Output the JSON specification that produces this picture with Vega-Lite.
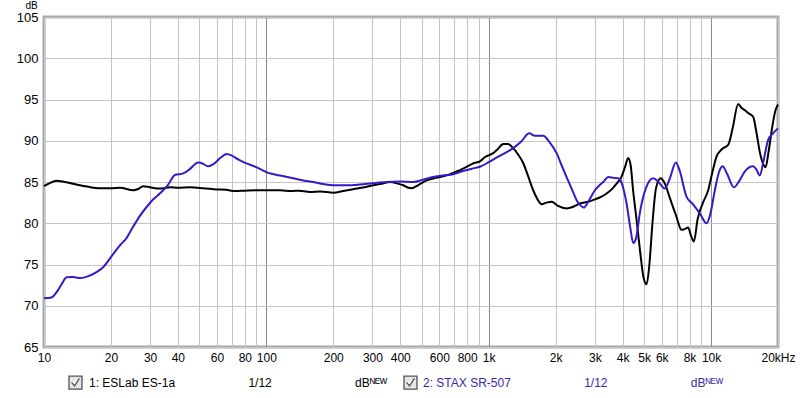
{
  "$schema": "https://vega.github.io/schema/vega-lite/v6.json",
  "width": 734,
  "height": 330,
  "autosize": {"type": "none"},
  "padding": {"left": 44, "top": 17, "right": 22, "bottom": 51},
  "background": "white",
  "config": {
    "view": {"stroke": "#a8a8a8", "strokeWidth": 3},
    "font": "Liberation Sans"
  },
  "datasets": {
    "es": [
      [10,84.5],[10.5,84.8],[11.4,85.15],[12.4,85.0],[13.5,84.8],[14.5,84.6],[16,84.4],[17.5,84.25],[20,84.25],[22,84.3],[25.2,84.0],[26.5,84.15],[27.9,84.5],[30,84.35],[33.2,84.2],[37,84.35],[40,84.3],[45.3,84.35],[52,84.25],[59.8,84.1],[66,84.05],[72.2,83.9],[80,83.95],[90,84.0],[104,84.0],[115,84.0],[130,83.9],[140,83.95],[157,83.8],[175,83.85],[200,83.7],[225,83.95],[255,84.2],[280,84.4],[303,84.6],[330,84.8],[360,85.0],[390,84.8],[413,84.6],[435,84.3],[450,84.25],[480,84.6],[526,85.2],[580,85.5],[647,85.8],[720,86.3],[796,86.85],[860,87.3],[913,87.5],[960,88.0],[1012,88.3],[1048,88.5],[1100,89.0],[1162,89.6],[1220,89.6],[1289,89.1],[1350,88.4],[1429,87.3],[1500,85.8],[1585,84.0],[1650,83.0],[1729,82.3],[1820,82.5],[1918,82.6],[2050,82.1],[2240,81.8],[2400,82.0],[2571,82.4],[2800,82.6],[3004,82.9],[3200,83.2],[3389,83.6],[3600,84.2],[3758,84.8],[3950,85.6],[4100,86.8],[4238,87.9],[4350,87.0],[4460,84.0],[4624,80.4],[4800,76.5],[4980,73.3],[5129,72.6],[5280,75.0],[5450,80.0],[5650,84.2],[5929,85.45],[6198,84.8],[6500,83.2],[6946,81.0],[7366,79.2],[7620,79.3],[7889,79.5],[8100,78.6],[8374,77.8],[8700,80.5],[9200,82.5],[9706,84.0],[10100,86.0],[10590,88.1],[11200,89.0],[11940,89.5],[12500,91.5],[13240,94.45],[13700,94.0],[14190,93.7],[14800,93.3],[15460,92.9],[16000,91.0],[16600,88.5],[17150,87.2],[17590,86.8],[18100,88.5],[18800,91.5],[19400,93.5],[20000,94.4]
    ],
    "st": [
      [10,70.9],[10.8,71.0],[11.5,71.8],[12,72.6],[12.65,73.45],[13.5,73.5],[14.5,73.35],[15.5,73.5],[17.3,74.1],[18.5,74.7],[20,75.9],[22,77.35],[23.5,78.2],[25.2,79.6],[27,80.9],[29,82.0],[31,82.9],[33.2,83.6],[36,84.6],[38.8,85.85],[42.3,86.05],[45,86.5],[49.4,87.35],[52,87.2],[54.8,86.9],[58,87.2],[62,87.9],[66.3,88.4],[70,88.2],[75,87.7],[81.5,87.25],[90,86.8],[102,86.1],[115,85.8],[132,85.45],[145,85.2],[163,85.0],[180,84.75],[200,84.6],[230,84.6],[264,84.7],[300,84.85],[347,85.0],[400,85.05],[458,85.0],[510,85.3],[563,85.6],[620,85.8],[692,85.95],[760,86.3],[852,86.65],[913,86.85],[1000,87.4],[1110,88.1],[1200,88.6],[1289,89.1],[1400,89.9],[1521,90.9],[1613,90.6],[1700,90.6],[1758,90.6],[1880,89.8],[2020,88.5],[2130,87.0],[2240,85.6],[2360,84.2],[2485,82.8],[2580,82.2],[2679,81.9],[2800,82.6],[3004,84.0],[3150,84.6],[3300,85.1],[3446,85.6],[3650,85.5],[3823,85.45],[3950,85.0],[4050,84.0],[4169,82.4],[4330,79.5],[4466,77.6],[4600,78.2],[4800,81.5],[5100,84.3],[5493,85.45],[5800,85.0],[6198,84.2],[6500,85.3],[6946,87.35],[7200,86.5],[7761,83.2],[8300,82.3],[8900,81.2],[9545,80.0],[9900,81.0],[10400,84.0],[10800,86.0],[11270,86.9],[11800,86.0],[12670,84.35],[13300,85.0],[14200,86.3],[15460,86.9],[16000,86.5],[16570,85.8],[17200,87.5],[18060,90.1],[19000,90.9],[20000,91.5]
    ]
  },
  "layer": [
    {
      "data": {"name": "es"},
      "transform": [
        {"calculate": "datum[0]", "as": "freq"},
        {"calculate": "datum[1]", "as": "db"},
        {"calculate": "'1: ESLab ES-1a'", "as": "series"},
        {"calculate": "'box1'", "as": "box"}
      ],
      "mark": {"type": "line", "strokeWidth": 2, "interpolate": "monotone"},
      "encoding": {
        "x": {"field": "freq", "type": "quantitative"},
        "y": {"field": "db", "type": "quantitative"},
        "stroke": {"field": "series", "type": "nominal"},
        "opacity": {"field": "box", "type": "nominal"}
      }
    },
    {
      "data": {"name": "st"},
      "transform": [
        {"calculate": "datum[0]", "as": "freq"},
        {"calculate": "datum[1]", "as": "db"},
        {"calculate": "'2: STAX SR-507'", "as": "series"},
        {"calculate": "'box2'", "as": "box"}
      ],
      "mark": {"type": "line", "strokeWidth": 2, "interpolate": "monotone"},
      "encoding": {
        "x": {"field": "freq", "type": "quantitative"},
        "y": {"field": "db", "type": "quantitative"},
        "stroke": {"field": "series", "type": "nominal"},
        "opacity": {"field": "box", "type": "nominal"}
      }
    }
  ],
  "encoding": {
    "x": {
      "field": "freq", "type": "quantitative",
      "scale": {"type": "log", "domain": [10, 20000], "nice": false},
      "axis": {
        "title": null,
        "values": [10,20,30,40,50,60,70,80,90,100,200,300,400,500,600,700,800,900,1000,2000,3000,4000,5000,6000,7000,8000,9000,10000,20000],
        "labelExpr": "indexof([50,70,90,500,700,900,7000,9000], datum.value) >= 0 ? '' : (datum.value >= 20000 ? '20kHz' : (datum.value >= 1000 ? (datum.value/1000) + 'k' : '' + datum.value))",
        "labelOverlap": false,
        "labelFlush": false,
        "labelBound": false,
        "ticks": false,
        "domain": false,
        "labelFont": "Liberation Sans",
        "labelFontSize": 12,
        "labelColor": "#000000",
        "labelPadding": 5,
        "gridColor": {"condition": {"test": "datum.value == 100 || datum.value == 1000 || datum.value == 10000", "value": "#8c8c8c"}, "value": "#c4c4c4"},
        "gridWidth": 1
      }
    },
    "y": {
      "field": "db", "type": "quantitative",
      "scale": {"domain": [65, 105], "nice": false, "zero": false},
      "axis": {
        "title": "dB",
        "titleAngle": 0,
        "titleX": -13,
        "titleY": -12,
        "titleAlign": "center",
        "titleBaseline": "middle",
        "titleFont": "Liberation Sans",
        "titleFontSize": 10,
        "titleFontWeight": "normal",
        "titleColor": "#000000",
        "values": [65,70,75,80,85,90,95,100,105],
        "labelFlush": false,
        "ticks": false,
        "domain": false,
        "labelFont": "Liberation Sans",
        "labelFontSize": 13,
        "labelColor": "#000000",
        "labelPadding": 6,
        "gridColor": "#c4c4c4"
      }
    },
    "stroke": {
      "field": "series", "type": "nominal",
      "scale": {"domain": ["1: ESLab ES-1a", "2: STAX SR-507"], "range": ["#000000", "#3a17c9"]},
      "legend": {
        "title": null,
        "orient": "none",
        "legendX": 24,
        "legendY": 358,
        "direction": "horizontal",
        "columnPadding": 14,
        "symbolType": "M-1,-1H1V1H-1Z",
        "symbolSize": 169,
        "symbolOpacity": 0,
        "labelOffset": 6,
        "labelLimit": 0,
        "labelFont": "Liberation Sans",
        "labelFontSize": 12,
        "labelExpr": "datum.label + '\u00a0\u00a0\u00a0\u00a0\u00a0\u00a0\u00a0\u00a0\u00a0\u00a0\u00a0\u00a0\u00a0\u00a0\u00a0\u00a0\u00a0\u00a0\u00a0\u00a0\u00a0\u00a01/12\u00a0\u00a0\u00a0\u00a0\u00a0\u00a0\u00a0\u00a0\u00a0\u00a0\u00a0\u00a0\u00a0\u00a0\u00a0\u00a0\u00a0\u00a0\u00a0\u00a0\u00a0\u00a0\u00a0\u00a0\u00a0dB\u1d3a\u1d31\u1d42'",
        "encode": {
          "labels": {"update": {"fill": {"signal": "datum.value == '1: ESLab ES-1a' ? '#000000' : '#3a2aa8'"}}}
        }
      }
    },
    "opacity": {
      "field": "box", "type": "nominal",
      "scale": {"domain": ["box1", "box2"], "range": [1, 1]},
      "legend": {
        "title": null,
        "orient": "none",
        "legendX": 24,
        "legendY": 358,
        "direction": "horizontal",
        "columnPadding": 312,
        "symbolType": "M-1,-1H1V1H-1Z M-0.6,-0.05L-0.15,0.5L0.6,-0.65",
        "symbolSize": 169,
        "symbolStrokeWidth": 1.3,
        "symbolStrokeColor": "#505050",
        "symbolFillColor": "#e6e6e6",
        "labelOffset": 6,
        "labelLimit": 0,
        "labelFontSize": 12,
        "labelExpr": "''"
      }
    }
  }
}
